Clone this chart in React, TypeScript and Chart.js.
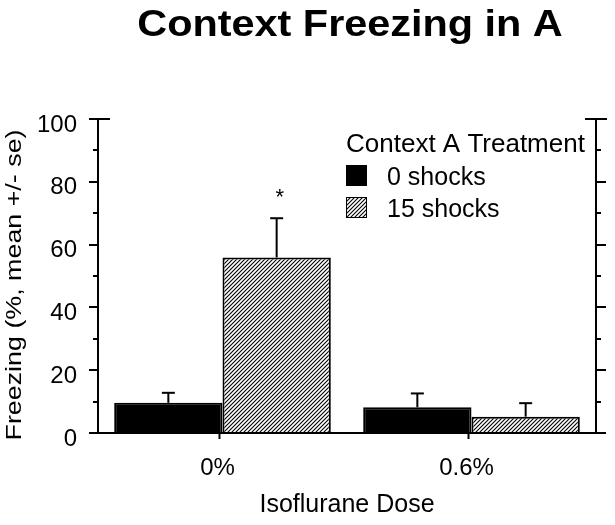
import React, { useEffect, useRef } from 'react';
import { Chart, registerables } from 'chart.js';

Chart.register(...registerables);

// ---- data ----
const categories = ['0%', '0.6%'];
const seriesLabels = ['0 shocks', '15 shocks'];
const zeroShocks = [9.6, 8.2];
const zeroShocksErr = [3.2, 4.4];
const fifteenShocks = [55.9, 5.2];
const fifteenShocksErr = [12.5, 4.3];
const fifteenShocksMarks = ['*', ''];
const yMin = 0;
const yMax = 100;
const yMajorStep = 20;
const yMinorStep = 10;
const chartTitle = 'Context Freezing in A';
const legendTitle = 'Context A Treatment';
const xTitle = 'Isoflurane Dose';
const yTitle = 'Freezing (%, mean +/- se)';

const FONT = '"Liberation Sans", Arial, Helvetica, sans-serif';

function makeHatch(): CanvasPattern | string {
  const s = 4;
  const c = document.createElement('canvas');
  c.width = s;
  c.height = s;
  const g = c.getContext('2d');
  if (!g) return '#888';
  g.fillStyle = '#fff';
  g.fillRect(0, 0, s, s);
  g.strokeStyle = '#000';
  g.lineWidth = 1.1;
  g.beginPath();
  g.moveTo(-1, s + 1);
  g.lineTo(s + 1, -1);
  g.moveTo(-1, 1);
  g.lineTo(1, -1);
  g.moveTo(s - 1, s + 1);
  g.lineTo(s + 1, s - 1);
  g.stroke();
  return g.createPattern(c, 'repeat') || '#888';
}

const errors = [zeroShocksErr, fifteenShocksErr];
const marks = [['', ''], fifteenShocksMarks];

const decorPlugin = {
  id: 'decor',
  afterDatasetsDraw(chart: any) {
    const ctx: CanvasRenderingContext2D = chart.ctx;
    const x = chart.scales.x;
    const y = chart.scales.y;
    const { left, right, top } = chart.chartArea;
    ctx.save();
    ctx.strokeStyle = '#000';
    ctx.fillStyle = '#000';
    ctx.lineWidth = 2;
    ctx.lineCap = 'butt';
    const line = (x1: number, y1: number, x2: number, y2: number) => {
      ctx.beginPath();
      ctx.moveTo(x1, y1);
      ctx.lineTo(x2, y2);
      ctx.stroke();
    };
    const yTop = y.getPixelForValue(yMax);
    const yBot = y.getPixelForValue(yMin);
    // axis lines
    line(left, yTop, left, yBot);
    line(right, yTop, right, yBot);
    line(left - 9, yBot, right + 10, yBot);
    // y ticks
    for (let v = yMin; v <= yMax + 1e-9; v += yMinorStep) {
      const py = Math.round(y.getPixelForValue(v));
      const major = Math.abs(v % yMajorStep) < 1e-9;
      if (v === yMax) {
        line(left - 9, py, left + 12, py);
        line(right - 11, py, right + 11, py);
      } else if (v !== yMin) {
        line(left - (major ? 9 : 5), py, left, py);
        line(right, py, right + (major ? 10 : 5), py);
      }
    }
    // x ticks
    categories.forEach((_, i) => {
      const px = x.getPixelForValue(i) - 3;
      line(px, yBot, px, yBot + 6);
    });
    // error bars and marks
    chart.data.datasets.forEach((ds: any, d: number) => {
      const meta = chart.getDatasetMeta(d);
      meta.data.forEach((el: any, i: number) => {
        const v = ds.data[i];
        const e = errors[d][i];
        const pyTop = y.getPixelForValue(v + e);
        ctx.lineWidth = 2;
        line(el.x, el.y, el.x, pyTop);
        line(el.x - 6.5, pyTop, el.x + 6.5, pyTop);
        const m = marks[d][i];
        if (m) {
          ctx.font = `22px ${FONT}`;
          ctx.textAlign = 'center';
          ctx.textBaseline = 'alphabetic';
          ctx.fillText(m, el.x + 3, pyTop - 14);
        }
      });
    });
    // legend
    const lx = right - 250;
    ctx.textAlign = 'left';
    ctx.textBaseline = 'alphabetic';
    ctx.font = `26px ${FONT}`;
    ctx.fillText(legendTitle, lx, top + 33);
    ctx.font = `25px ${FONT}`;
    chart.data.datasets.forEach((ds: any, d: number) => {
      const base = top + 66 + d * 32;
      ctx.fillStyle = ds.backgroundColor;
      ctx.fillRect(lx, base - 20, 21, 21);
      ctx.lineWidth = 1;
      ctx.strokeStyle = '#000';
      ctx.strokeRect(lx + 0.5, base - 19.5, 20, 20);
      ctx.fillStyle = '#000';
      ctx.fillText(ds.label, lx + 41, base);
    });
    ctx.restore();
  },
  afterDraw(chart: any) {
    const ctx: CanvasRenderingContext2D = chart.ctx;
    const { left, right, top, bottom } = chart.chartArea;
    ctx.save();
    ctx.fillStyle = '#000';
    ctx.font = `bold 36px ${FONT}`;
    ctx.textAlign = 'center';
    ctx.textBaseline = 'alphabetic';
    ctx.translate((left + right) / 2 + 3, 36);
    ctx.scale(1.15, 1);
    ctx.fillText(chartTitle, 0, 0);
    ctx.restore();
    ctx.save();
    ctx.fillStyle = '#000';
    ctx.font = `22px ${FONT}`;
    ctx.textAlign = 'center';
    ctx.textBaseline = 'middle';
    ctx.translate(15, (top + bottom) / 2 + 9);
    ctx.rotate(-Math.PI / 2);
    ctx.scale(1.22, 1);
    ctx.fillText(yTitle, 0, 0);
    ctx.restore();
  },
};

export default function App() {
  const ref = useRef<HTMLCanvasElement | null>(null);
  useEffect(() => {
    if (!ref.current) return;
    const hatch = makeHatch();
    const tickFont = { family: FONT, size: 24 };
    const chart = new Chart(ref.current, {
      type: 'bar',
      data: {
        labels: categories,
        datasets: [
          {
            label: seriesLabels[0],
            data: zeroShocks,
            backgroundColor: '#000',
            borderColor: '#000',
            borderWidth: 2,
            barPercentage: 1,
            categoryPercentage: 0.87,
          },
          {
            label: seriesLabels[1],
            data: fifteenShocks,
            backgroundColor: hatch as any,
            borderColor: '#000',
            borderWidth: 2,
            barPercentage: 1,
            categoryPercentage: 0.87,
          },
        ],
      },
      options: {
        responsive: false,
        animation: false,
        devicePixelRatio: 1,
        layout: { padding: { top: 119, left: 0, right: 0, bottom: 0 } },
        plugins: {
          legend: { display: false },
          title: { display: false },
          tooltip: { enabled: false },
        },
        scales: {
          x: {
            type: 'category',
            grid: { display: false, drawTicks: false },
            border: { display: false },
            ticks: { font: tickFont, color: '#000', padding: 21, labelOffset: -5 },
            title: {
              display: true,
              text: xTitle,
              font: { family: FONT, size: 25 },
              color: '#000',
              padding: { top: 0, bottom: 5 },
            },
            afterFit: (s: any) => {
              s.height = 92;
            },
          },
          y: {
            type: 'linear',
            min: yMin,
            max: yMax,
            grid: { display: false, drawTicks: false },
            border: { display: false },
            ticks: { stepSize: yMajorStep, font: tickFont, color: '#000', padding: 21, labelOffset: 6 },
            afterFit: (s: any) => {
              s.width = 98;
            },
          },
          y2: {
            type: 'linear',
            position: 'right',
            min: yMin,
            max: yMax,
            grid: { display: false, drawTicks: false },
            border: { display: false },
            ticks: { display: false },
            afterFit: (s: any) => {
              s.width = 19;
            },
          },
        },
      } as any,
      plugins: [decorPlugin],
    });
    return () => chart.destroy();
  }, []);
  return (
    <div style={{ position: 'absolute', left: 0, top: 0, width: 615, height: 525, background: '#fff' }}>
      <canvas ref={ref} width={615} height={525} style={{ display: 'block' }} />
    </div>
  );
}
